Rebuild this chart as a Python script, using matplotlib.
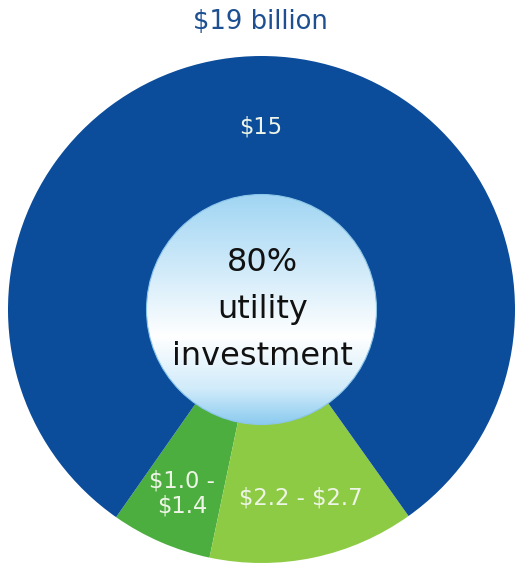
import numpy as np
import matplotlib
matplotlib.use("Agg")
import matplotlib.pyplot as plt
from matplotlib.colors import LinearSegmentedColormap
from matplotlib.patches import Circle

plt.rcParams['text.parse_math'] = False

# data (ranges shown as their midpoints)
segment_names = ['low range', 'high range', 'utility']
segment_values = [1.2, 2.45, 15]
segment_labels = ['$1.0 -\n$1.4', '$2.2 - $2.7', '$15']
segment_colors = ['#4bae3e', '#8ecb45', '#0b4c9b']
label_dist = [0.79, 0.76, 0.72]

title_text = '$19 billion'
center_lines = ['80%', 'utility', 'investment']

W, H = 516, 564
cx, cy = 261.5, 254.5
R = 253.5
r_in = 115

fig = plt.figure(figsize=(W / 100, H / 100), dpi=100)
ax = fig.add_axes([0, 0, 1, 1])

wedges, _ = ax.pie(segment_values, colors=segment_colors, startangle=235,
                   counterclock=True, center=(cx, cy), radius=R, frame=True,
                   wedgeprops=dict(edgecolor='none'))

# labels in the wedges
for w, lab, d in zip(wedges, segment_labels, label_dist):
    th = np.deg2rad((w.theta1 + w.theta2) / 2)
    ax.text(cx + d * R * np.cos(th), cy + d * R * np.sin(th), lab,
            ha='center', va='center', multialignment='center',
            fontsize=16.3, color='#eef5e6', linespacing=1.1)

# inner circle with vertical gradient
cmap = LinearSegmentedColormap.from_list(
    'inner', [(0, '#a0d5f3'), (0.35, '#d4ecfa'), (0.62, '#ffffff'),
              (0.85, '#d0ebfa'), (1, '#8ccbef')])
grad = np.linspace(0, 1, 256).reshape(-1, 1)
im = ax.imshow(grad, cmap=cmap, extent=[cx - r_in, cx + r_in, cy - r_in, cy + r_in],
               origin='upper', aspect='auto', zorder=3)
clip = Circle((cx, cy), r_in, transform=ax.transData)
im.set_clip_path(clip)
ax.add_patch(Circle((cx, cy), r_in, facecolor='none', edgecolor='#8cc6ea',
                    lw=0.8, zorder=4))

# center text
for i, line in enumerate(center_lines):
    ax.text(cx + 1, cy + 38.5 - 47 * i, line, ha='center', va='baseline',
            fontsize=23, color='#111111', zorder=5)

ax.text(260, H - 22, title_text, ha='center', va='center',
        fontsize=18.6, color='#1d4f91')

ax.set_xlim(0, W)
ax.set_ylim(0, H)
ax.set_aspect('auto')
ax.axis('off')

fig.savefig('out.png', dpi=100)
